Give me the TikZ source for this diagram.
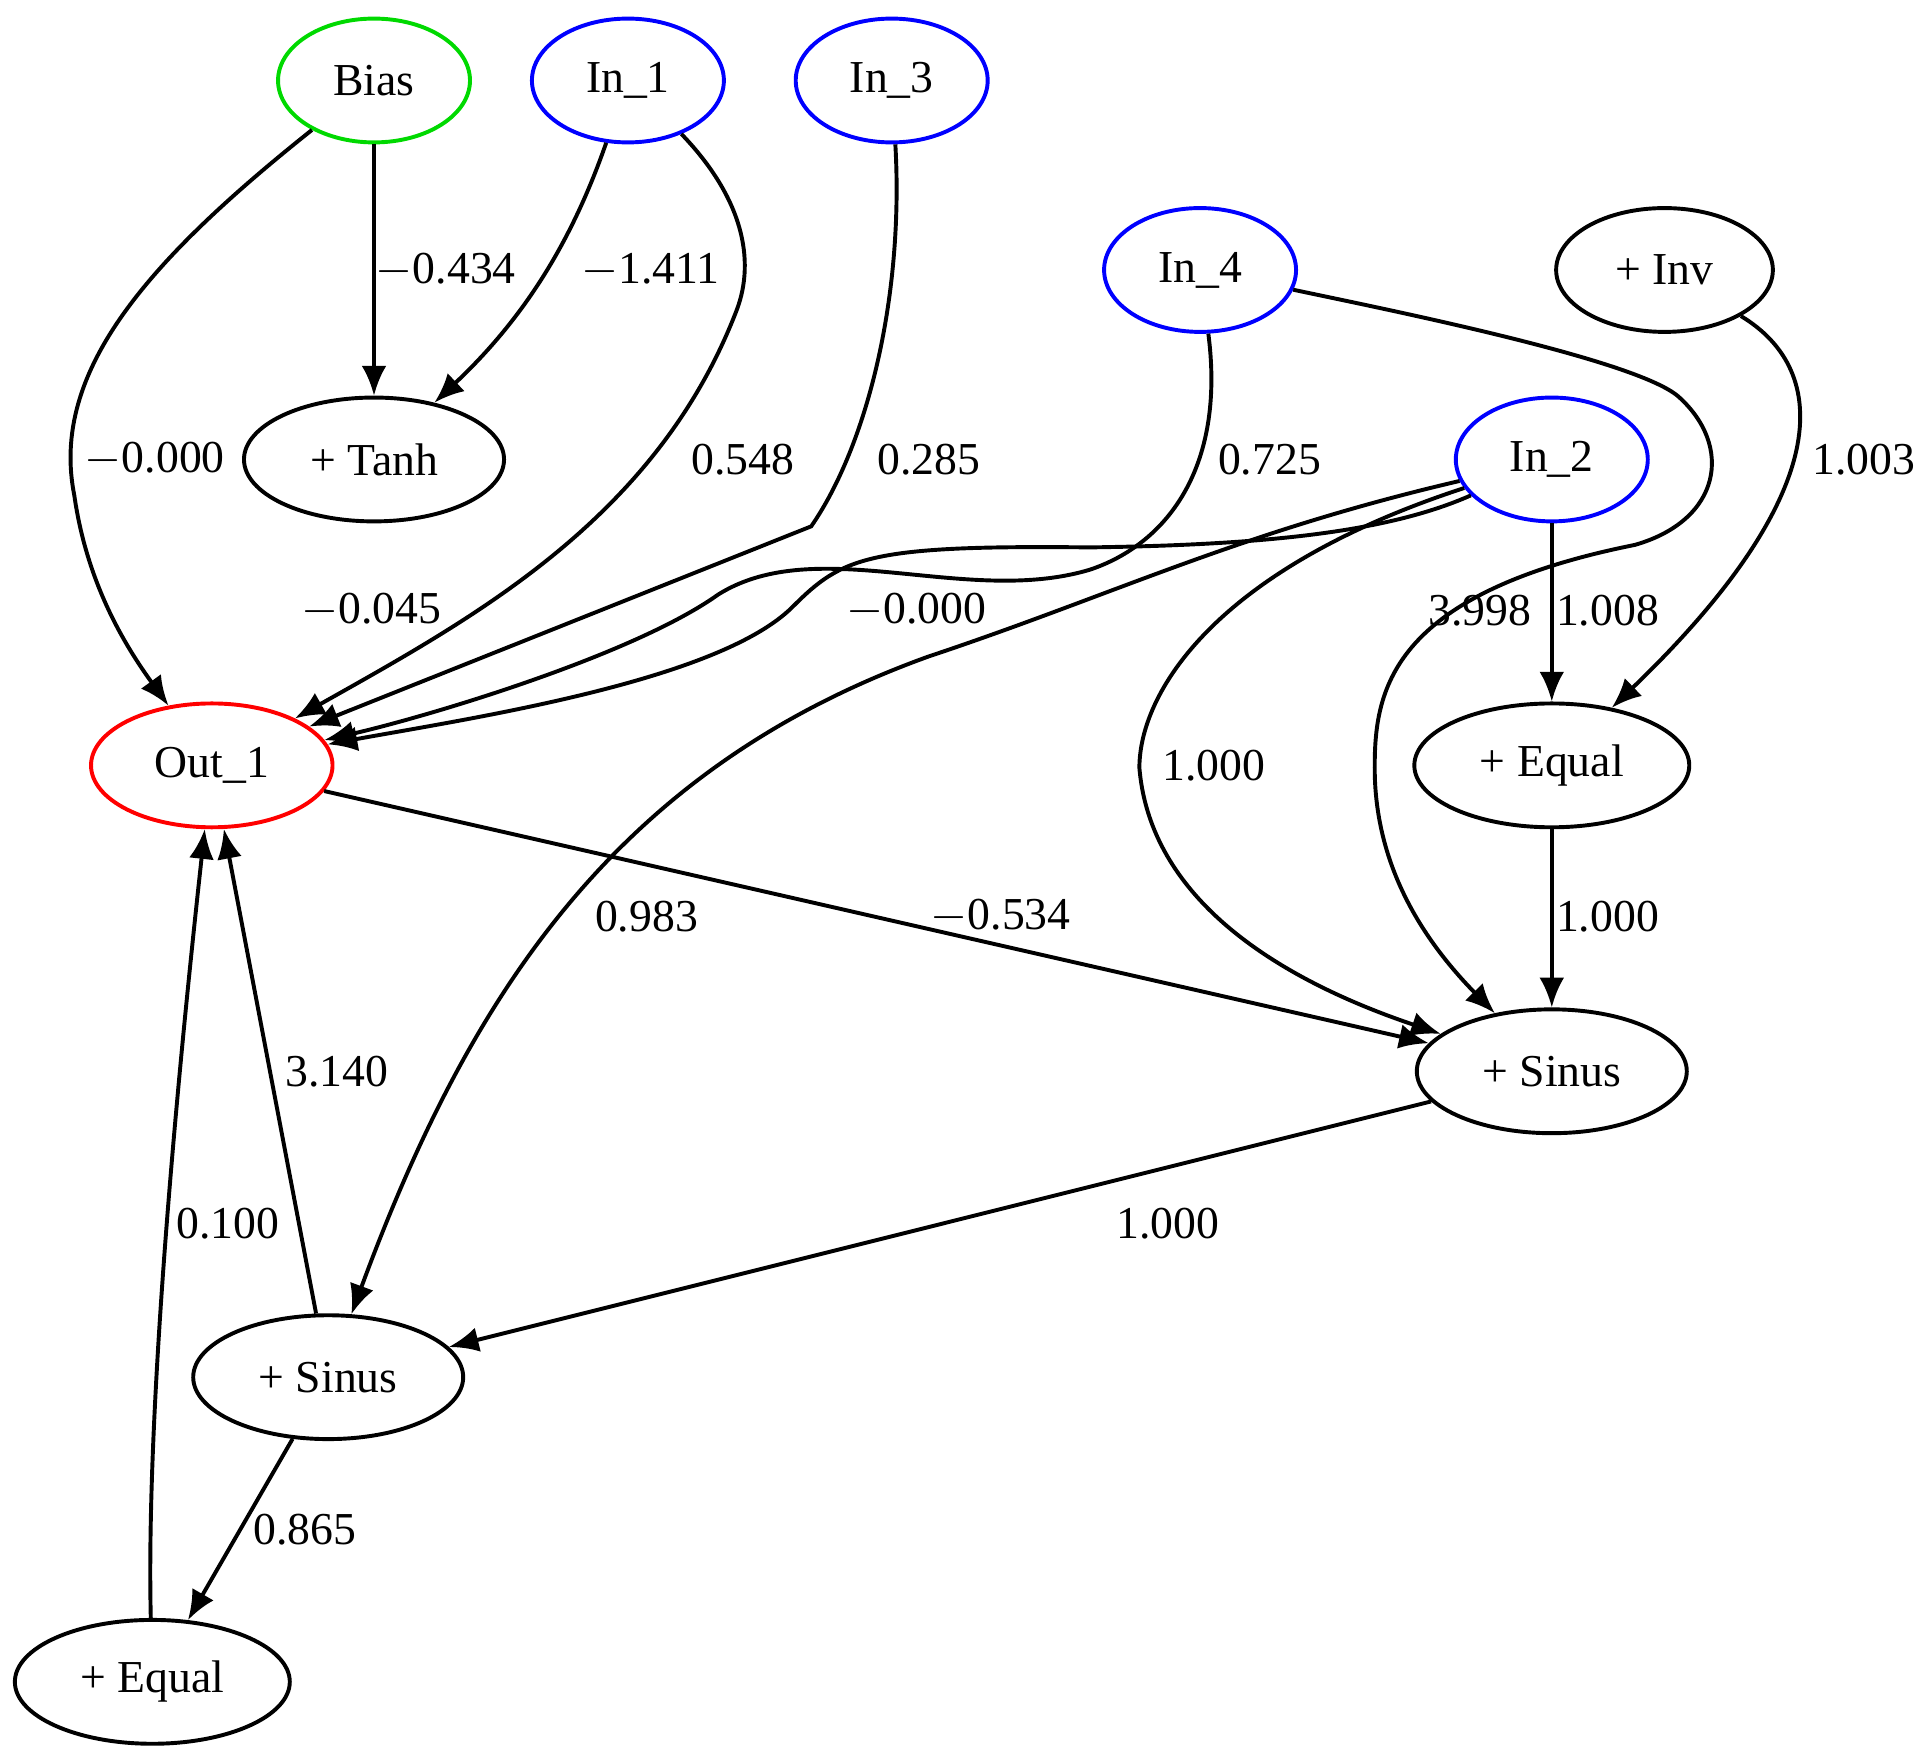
\documentclass[tikz,border=0pt]{standalone}
\usepackage{fontspec}
\setmainfont{Liberation Serif}
\usetikzlibrary{arrows.meta,shapes.geometric}
\begin{document}
\begin{tikzpicture}[x=0.1mm,y=-0.1mm,
  nd/.style={ellipse,draw,line width=0.9pt,minimum height=10mm,font=\fontsize{10.5}{12}\selectfont,inner sep=0pt},
  e/.style={line width=0.9pt,-{Latex[length=2.4mm,width=2mm]}},
  lb/.style={font=\fontsize{10.5}{12}\selectfont,inner sep=0pt}]
\useasboundingbox (0,0) rectangle (1560,1422);
\node[nd,draw=green!85!black,minimum width=15.5mm] (bias) at (302,65) {Bias};
\node[nd,draw=blue,minimum width=15.5mm] (in1) at (507,65) {In\_1};
\node[nd,draw=blue,minimum width=15.5mm] (in3) at (720,65) {In\_3};
\node[nd,draw=blue,minimum width=15.5mm] (in4) at (969,218) {In\_4};
\node[nd,minimum width=17.5mm] (inv) at (1344,218) {+ Inv};
\node[nd,draw=blue,minimum width=15.5mm] (in2) at (1253,371) {In\_2};
\node[nd,minimum width=21mm] (tanh) at (302,371) {+ Tanh};
\node[nd,draw=red,minimum width=19.5mm] (out) at (171,618) {Out\_1};
\node[nd,minimum width=22.2mm] (eq1) at (1253,618) {+ Equal};
\node[nd,minimum width=21.8mm] (sin1) at (1253,865) {+ Sinus};
\node[nd,minimum width=21.8mm] (sin2) at (265,1112) {+ Sinus};
\node[nd,minimum width=22.2mm] (eq2) at (123,1358) {+ Equal};

\draw[e] (bias) .. controls (120,210) and (40,300) .. (60,400) .. controls (70,470) and (100,520) .. (out);
\draw[e] (bias) -- (tanh);
\draw[e] (in1) .. controls (460,200) and (420,260) .. (tanh);
\draw[e] (in1.-45) .. controls (600,160) and (610,210) .. (595,250) .. controls (530,420) and (380,500) .. (out);
\draw[e] (in3) .. controls (730,240) and (700,360) .. (655,425) -- (out);
\draw[e] (in4) .. controls (990,380) and (940,440) .. (880,460) .. controls (780,490) and (660,430) .. (580,480) .. controls (510,530) and (340,580) .. (out);
\draw[e] (in4) .. controls (1120,250) and (1320,290) .. (1355,320) .. controls (1400,360) and (1390,420) .. (1320,440) .. controls (1120,480) and (1110,560) .. (1110,620) .. controls (1110,700) and (1150,760) .. (sin1);
\draw[e] (inv) .. controls (1480,300) and (1480,400) .. (eq1);
\draw[e] (in2) .. controls (1120,430) and (1020,440) .. (880,442) .. controls (700,440) and (680,450) .. (640,490) .. controls (580,550) and (380,580) .. (out);
\draw[e] (in2) .. controls (1000,430) and (900,480) .. (750,530) .. controls (500,620) and (380,800) .. (sin2);
\draw[e] (in2) .. controls (980,460) and (920,560) .. (920,620) .. controls (930,740) and (1060,800) .. (sin1);
\draw[e] (in2) -- (eq1);
\draw[e] (eq1) -- (sin1);
\draw[e] (out) -- (sin1);
\draw[e] (sin1) -- (sin2);
\draw[e] (sin2) -- (out);
\draw[e] (sin2) -- (eq2);
\draw[e] (eq2) .. controls (118,1150) and (140,900) .. (out);

\node[lb] (l1) at (125,371) {$-$0.000};
\node[lb] (l2) at (360,218) {$-$0.434};
\node[lb] (l3) at (525,218) {$-$1.411};
\node[lb] (l4) at (600,371) {0.548};
\node[lb] (l5) at (750,371) {0.285};
\node[lb] (l6) at (1025,371) {0.725};
\node[lb] (l7) at (1505,371) {1.003};
\node[lb] (l8) at (300,493) {$-$0.045};
\node[lb] (l9) at (740,493) {$-$0.000};
\node[lb] (l10) at (1195,493) {3.998};
\node[lb] (l11) at (1298,493) {1.008};
\node[lb] (l12) at (980,618) {1.000};
\node[lb] (l13) at (522,740) {0.983};
\node[lb] (l14) at (808,740) {$-$0.534};
\node[lb] (l15) at (1298,740) {1.000};
\node[lb] (l16) at (272,865) {3.140};
\node[lb] (l17) at (184,988) {0.100};
\node[lb] (l18) at (943,988) {1.000};
\node[lb] (l19) at (246,1235) {0.865};
\end{tikzpicture}
\end{document}
